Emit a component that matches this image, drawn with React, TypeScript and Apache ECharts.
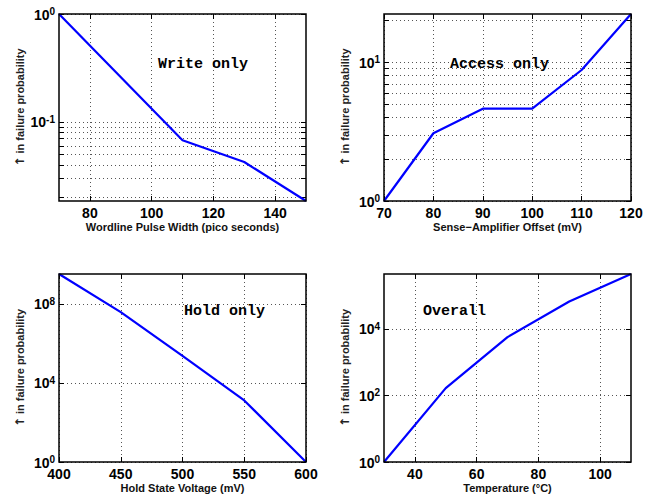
import React, { useEffect, useRef } from "react";
import * as echarts from "echarts";

// ---- data ----
const writeX = [70, 110, 130, 150];
const writeY = [1, 0.0676, 0.0425, 0.0185];
const accessX = [70, 80, 90, 100, 110, 120];
const accessY = [1, 3.08, 4.63, 4.63, 8.8, 22.3];
const holdX = [400, 450, 500, 550, 600];
const holdY = [3.2e9, 3.8e7, 2.3e5, 1300, 1];
const overallX = [30, 50, 70, 90, 110];
const overallY = [1, 167, 5700, 6.7e4, 4.5e5];

const writeXTicks = [80, 100, 120, 140];
const accessXTicks = [70, 80, 90, 100, 110, 120];
const holdXTicks = [400, 450, 500, 550, 600];
const overallXTicks = [40, 60, 80, 100];

const writeYMajor = [0.1, 1];
const writeYMinor = [0.02, 0.03, 0.04, 0.05, 0.06, 0.07, 0.08, 0.09];
const accessYMajor = [1, 10];
const accessYMinor = [2, 3, 4, 5, 6, 7, 8, 9, 20];
const holdYMajor = [1, 1e4, 1e8];
const overallYMajor = [1, 1e2, 1e4];

const xTitles = [
  "Wordline Pulse Width (pico seconds)",
  "Sense\u2212Amplifier Offset (mV)",
  "Hold State Voltage (mV)",
  "Temperature (\u00B0C)",
];
const yTitle = "{a|\u2191} in failure probability";
const panelLabels = ["Write only", "Access only", "Hold only", "Overall"];

export default function App() {
  const ref = useRef<HTMLDivElement>(null);

  useEffect(() => {
    if (!ref.current) return;
    const chart = echarts.init(ref.current, undefined, { renderer: "svg" });

    const grids = [
      { left: 59, top: 14, width: 247, height: 187 },
      { left: 384, top: 14, width: 247, height: 187 },
      { left: 59, top: 274, width: 247, height: 188 },
      { left: 384, top: 274, width: 247, height: 188 },
    ];
    const panels = [
      { xs: writeX, ys: writeY, xMin: 70, xMax: 150, xTicks: writeXTicks, yMin: 0.0185, yMax: 1, yMajor: writeYMajor, yMinor: writeYMinor },
      { xs: accessX, ys: accessY, xMin: 70, xMax: 120, xTicks: accessXTicks, yMin: 1, yMax: 22.3, yMajor: accessYMajor, yMinor: accessYMinor },
      { xs: holdX, ys: holdY, xMin: 400, xMax: 600, xTicks: holdXTicks, yMin: 1, yMax: 3.2e9, yMajor: holdYMajor, yMinor: [] as number[] },
      { xs: overallX, ys: overallY, xMin: 30, xMax: 110, xTicks: overallXTicks, yMin: 1, yMax: 4.5e5, yMajor: overallYMajor, yMinor: [] as number[] },
    ];
    const labelPos = [
      { left: 158, top: 57 },
      { left: 450, top: 57 },
      { left: 184, top: 304 },
      { left: 423, top: 304 },
    ];

    const splitStyle = { type: [1, 3] as any, color: "#555", width: 1 };
    const labelFont = { fontSize: 14, fontWeight: "bold" as const, color: "#000", fontFamily: "Liberation Sans" };
    const tickStyle = { color: "#000", width: 1 };

    const xMain = panels.map((p, i) => ({
      gridIndex: i,
      type: "value",
      position: "bottom",
      min: p.xMin,
      max: p.xMax,
      axisLine: { show: false },
      axisTick: { show: true, inside: true, length: 5, customValues: p.xTicks, lineStyle: tickStyle },
      axisLabel: { ...labelFont, customValues: p.xTicks, margin: 5 },
      splitLine: { show: true, lineStyle: splitStyle },
      name: xTitles[i],
      nameLocation: "middle",
      nameGap: 20,
      nameTextStyle: { fontSize: 11, fontWeight: "bold", color: "#111", fontFamily: "Liberation Sans" },
    }));
    const xTop = panels.map((p, i) => ({
      gridIndex: i,
      type: "value",
      position: "top",
      min: p.xMin,
      max: p.xMax,
      axisLine: { show: false },
      axisTick: { show: true, inside: true, length: 5, customValues: p.xTicks, lineStyle: tickStyle },
      axisLabel: { show: false },
      splitLine: { show: false },
    }));
    const yMain = panels.map((p, i) => ({
      gridIndex: i,
      type: "log",
      logBase: 10,
      position: "left",
      min: p.yMin,
      max: p.yMax,
      axisLine: { show: false },
      axisTick: { show: true, inside: true, length: 5, customValues: [...p.yMajor, ...p.yMinor], lineStyle: tickStyle },
      axisLabel: {
        customValues: p.yMajor,
        margin: 4,
        formatter: (v: number) => {
          const e = Math.round(Math.log10(v));
          return `{b|10}{s|${e}}`;
        },
        rich: {
          b: { ...labelFont, lineHeight: 15, verticalAlign: "bottom" },
          s: { fontSize: 10, fontWeight: "bold", color: "#000", fontFamily: "Liberation Sans", lineHeight: 15, verticalAlign: "top" },
        },
      },
      splitLine: { show: true, lineStyle: splitStyle },
      name: yTitle,
      nameLocation: "middle",
      nameGap: 33,
      nameTextStyle: {
        fontSize: 11,
        fontWeight: "bold",
        color: "#222",
        fontFamily: "Liberation Sans",
        rich: { a: { fontSize: 12, fontFamily: "DejaVu Sans", color: "#222" } },
      },
    }));
    const yRight = panels.map((p, i) => ({
      gridIndex: i,
      type: "log",
      logBase: 10,
      position: "right",
      min: p.yMin,
      max: p.yMax,
      axisLine: { show: false },
      axisTick: { show: true, inside: true, length: 5, customValues: [...p.yMajor, ...p.yMinor], lineStyle: tickStyle },
      axisLabel: { show: false },
      splitLine: { show: false },
    }));

    const option: any = {
      animation: false,
      backgroundColor: "#fff",
      grid: grids.map((g) => ({ ...g, show: true, borderColor: "#000", borderWidth: 1.5, backgroundColor: "transparent", z: 10 })),
      xAxis: [...xMain, ...xTop],
      yAxis: [...yMain, ...yRight],
      series: panels.map((p, i) => ({
        type: "line",
        xAxisIndex: i,
        yAxisIndex: i,
        showSymbol: false,
        symbol: "none",
        lineStyle: { color: "#0000ff", width: 2.2 },
        data: p.xs.map((x, k) => [x, p.ys[k]]),
        z: 5,
      })),
      graphic: panelLabels.map((t, i) => ({
        type: "text",
        left: labelPos[i].left,
        top: labelPos[i].top,
        z: 20,
        style: { text: t, font: 'bold 15px "Liberation Mono"', fill: "#000" },
      })),
    };

    chart.setOption(option);
    return () => chart.dispose();
  }, []);

  return <div ref={ref} style={{ position: "fixed", left: 0, top: 0, width: 659, height: 495 }} />;
}
